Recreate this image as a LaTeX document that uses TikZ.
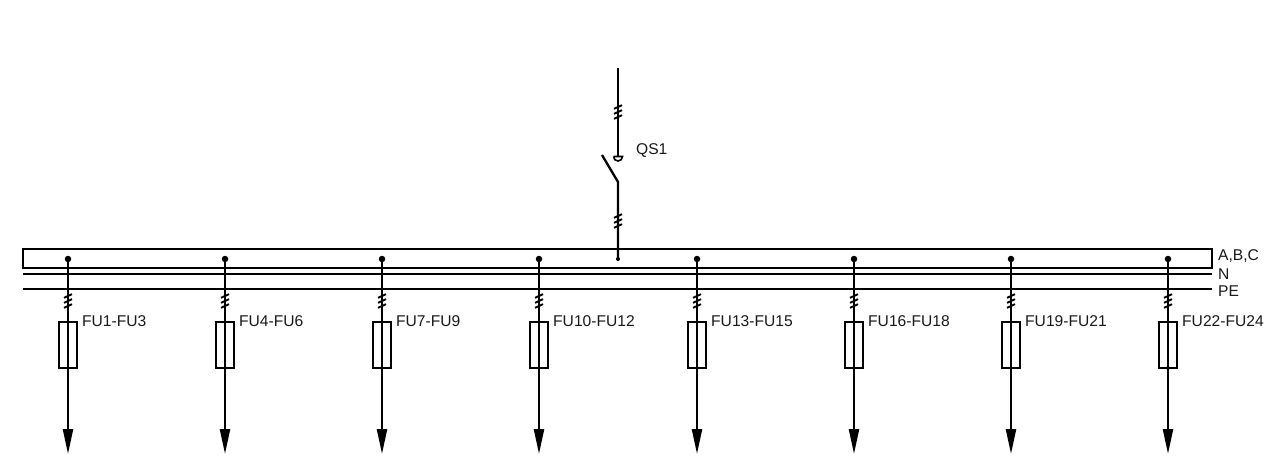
\documentclass[tikz,border=0pt]{standalone}
\usepackage{fontspec}
\setmainfont{Liberation Sans}
\usetikzlibrary{arrows.meta}
\tikzset{
  wire/.style={line width=2.3pt,black},
  bus/.style={line width=2pt,black},
  fusebox/.style={draw=black,line width=1.9pt,fill=none,minimum width=18pt,minimum height=45.5pt,inner sep=0pt,outer sep=0pt},
  joint/.style={circle,fill=black,inner sep=0pt,minimum size=6.5pt},
  smalljoint/.style={circle,fill=black,inner sep=0pt,minimum size=4pt},
  lab/.style={anchor=west,inner sep=0pt,font=\fontsize{15.6}{16}\selectfont,text=black!90},
  feeder/.style={wire,-{Triangle[length=25pt,width=10pt]}},
  tick/.style={line width=1.9pt,black},
}
\newcommand{\squig}[2]{%
  \foreach \k in {0,5,10}{
    \draw[tick] (#1-4,#2+\k+1.8) -- (#1+4,#2+\k-1.8);
  }%
}
\begin{document}
\begin{tikzpicture}[x=1pt,y=-1pt]
\useasboundingbox (0,0) rectangle (1280,476);
\fill[white] (0,0) rectangle (1280,476);
% bus bars
\node[draw=black,line width=2pt,minimum width=1189pt,minimum height=19.5pt,inner sep=0pt,outer sep=0pt] (abc) at (617.5,258.5) {};
\coordinate (nL) at (23,274); \coordinate (nR) at (1212,274);
\coordinate (peL) at (23,289); \coordinate (peR) at (1212,289);
\draw[bus] (nL) -- (nR);
\draw[bus] (peL) -- (peR);
\node[lab] (labABC) at (1218,256.5) {A,B,C};
\node[lab] (labN) at (1218,274) {N};
\node[lab] (labPE) at (1218,291.5) {PE};
% feeders
\foreach \i/\x/\t in {1/68/FU1-FU3,2/225/FU4-FU6,3/382/FU7-FU9,4/539/FU10-FU12,5/697/FU13-FU15,6/854/FU16-FU18,7/1011/FU19-FU21,8/1168/FU22-FU24}{
  \node[joint] (d\i) at (\x,259) {};
  \node[fusebox] (f\i) at (\x,345) {};
  \coordinate (e\i) at (\x,454);
  \draw[feeder] (d\i.center) -- (e\i);
  \squig{\x}{296}
  \node[lab] (t\i) at (\x+14,321) {\t};
}
% incoming with switch
\coordinate (top) at (618,68);
\coordinate (cont) at (618,156.5);
\coordinate (hinge) at (618,182);
\coordinate (blade) at (602,155);
\node[smalljoint] (j) at (618,259) {};
\draw[wire] (top) -- (cont);
\draw[line width=1.6pt,black] (613.5,156.5) -- (622.5,156.5) arc[start angle=0,end angle=-180,radius=4.5pt];
\draw[wire] (blade) -- (hinge) -- (j.center);
\squig{618}{107}
\squig{618}{216}
\node[lab] (qs) at (636,151) {QS1};
\end{tikzpicture}
\end{document}
